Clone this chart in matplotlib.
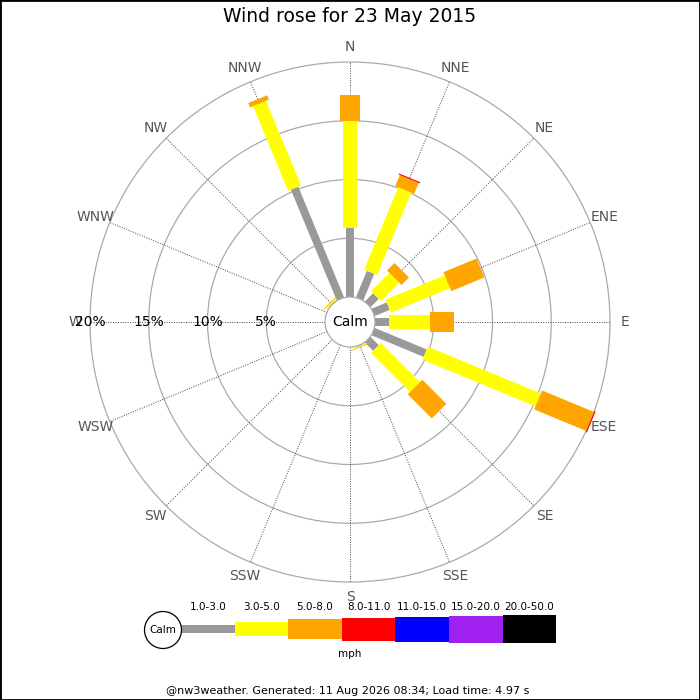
import numpy as np
import matplotlib
matplotlib.use('Agg')
import matplotlib.pyplot as plt
from matplotlib.patches import Polygon, Circle, Rectangle

# wind rose data, % of time per direction and speed bin
directions = ['N', 'NNE', 'NE', 'ENE', 'E', 'ESE', 'SE', 'SSE',
              'S', 'SSW', 'SW', 'WSW', 'W', 'WNW', 'NW', 'NNW']
bins = ['1.0-3.0', '3.0-5.0', '5.0-8.0', '8.0-11.0', '11.0-15.0', '15.0-20.0', '20.0-50.0']
s_1_3 = [5.9, 2.45, 1.0, 1.4, 1.15, 4.8, 1.0, 0.05, 0, 0, 0, 0, 0, 0, 0.05, 10.2]
s_3_5 = [9.1, 7.6, 2.2, 5.45, 3.5, 10.4, 4.7, 0.1, 0, 0, 0, 0, 0, 0, 0.15, 7.8]
s_5_8 = [2.2, 1.0, 0.9, 3.05, 2.05, 4.8, 2.9, 0.05, 0, 0, 0, 0, 0, 0, 0.05, 0.4]
s_8_11 = [0, 0.1, 0, 0, 0, 0.1, 0, 0, 0, 0, 0, 0, 0, 0, 0, 0]
s_11_15 = [0] * 16
s_15_20 = [0] * 16
s_20_50 = [0] * 16
series = [s_1_3, s_3_5, s_5_8, s_8_11, s_11_15, s_15_20, s_20_50]
rings = [5, 10, 15, 20]

colors = ['#999999', '#ffff00', '#ffa500', '#ff0000', '#0000ff', '#a020f0', '#000000']
bar_px = [8, 14, 20.5, 23, 25, 27, 28.5]

PX = 11.75          # pixels per percent
calm = 25 / PX      # calm circle radius in percent units

fig = plt.figure(figsize=(7, 7), dpi=100)
half = 340
ax = fig.add_axes([(350 - half) / 700, (700 - 322 - half) / 700, 2 * half / 700, 2 * half / 700])
ax.set_xlim(-half / PX, half / PX)
ax.set_ylim(-half / PX, half / PX)
ax.axis('off')

angles = np.deg2rad(np.arange(16) * 22.5)

for r in rings:
    ax.add_patch(Circle((0, 0), calm + r, fill=False, ec='#aaaaaa', lw=0.9, zorder=1))
for a in angles:
    ax.plot([calm * np.sin(a), (calm + rings[-1]) * np.sin(a)],
            [calm * np.cos(a), (calm + rings[-1]) * np.cos(a)],
            ls=(0, (1, 1.5)), color='#444444', lw=0.7, zorder=1)

# bars: straight strips stacked outward from the calm circle
for i, a in enumerate(angles):
    u = np.array([np.sin(a), np.cos(a)])
    n = np.array([np.cos(a), -np.sin(a)])
    base = calm
    for k, s in enumerate(series):
        v = s[i]
        if v <= 0:
            continue
        w = bar_px[k] / PX / 2
        pts = [base * u + w * n, (base + v) * u + w * n,
               (base + v) * u - w * n, base * u - w * n]
        ax.add_patch(Polygon(pts, closed=True, fc=colors[k], ec='none', zorder=2 + k))
        base += v

ax.add_patch(Circle((0, 0), calm, fc='white', ec='#aaaaaa', lw=0.9, zorder=10))
ax.text(0, 0, 'Calm', ha='center', va='center', fontsize=10, zorder=11)

for r in rings:
    ax.text(-(calm + r), 0, f'{r}%', ha='center', va='center', fontsize=10, zorder=11)

lab_r = (275 - 25) / PX + calm
for d, a in zip(directions, angles):
    ax.text(lab_r * np.sin(a), lab_r * np.cos(a), d, ha='center', va='center',
            fontsize=10, color='#555555')

fig.text(0.5, 1 - 17 / 700, 'Wind rose for 23 May 2015', ha='center', va='center', fontsize=13.5)

# legend strip
seg = 53.6
lax = fig.add_axes([181 / 700, (700 - 629.2 - 20) / 700, 7 * seg / 700, 40 / 700])
lax.set_xlim(0, 7)
lax.set_ylim(-20, 20)
lax.axis('off')
for k in range(len(bins)):
    lax.bar(k, bar_px[k], bottom=-bar_px[k] / 2, width=1, align='edge', color=colors[k], lw=0)
    lax.text(k + 0.5, 22.5, bins[k], ha='center', va='center', fontsize=7.5)

fig.patches.append(Circle((163 / 700, 1 - 630 / 700), 18.5 / 700, transform=fig.transFigure,
                          fc='white', ec='black', lw=0.9))
fig.text(163 / 700, 1 - 630 / 700, 'Calm', ha='center', va='center', fontsize=7.5)
fig.text(0.5, 1 - 654 / 700, 'mph', ha='center', va='center', fontsize=7.5)

fig.text(0.497, 1 - 691 / 700, '@nw3weather. Generated: 11 Aug 2026 08:34; Load time: 4.97 s',
         ha='center', va='center', fontsize=8)

fig.patches.append(Rectangle((0, 0), 1, 1, transform=fig.transFigure, fill=False, ec='black', lw=2))

fig.savefig('out.png', dpi=100)
